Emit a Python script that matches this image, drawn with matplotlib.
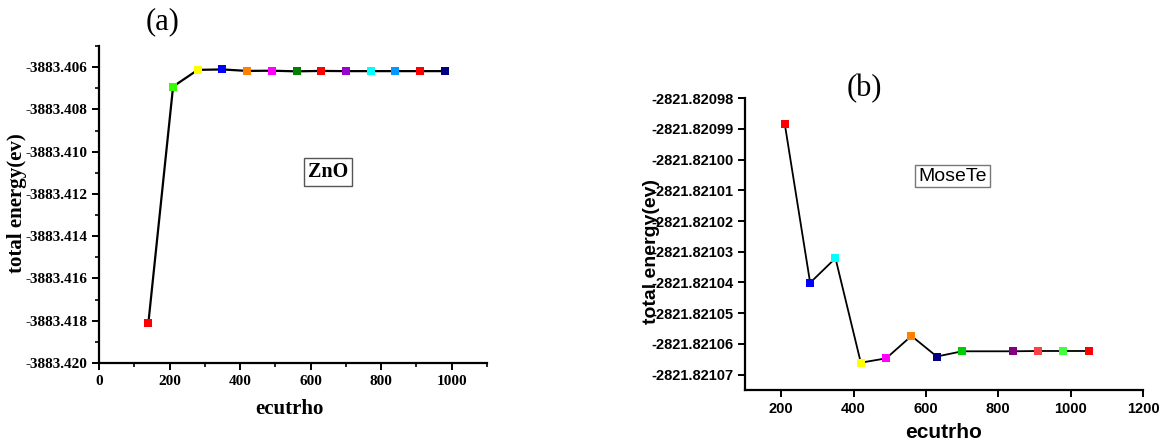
import matplotlib.pyplot as plt
from matplotlib.ticker import MultipleLocator, FormatStrFormatter

# (a) ZnO convergence data
zno_ecutrho = [140, 210, 280, 350, 420, 490, 560, 630, 700, 770, 840, 910, 980]
zno_energy = [-3883.41810, -3883.40692, -3883.40613, -3883.40611, -3883.40618,
              -3883.40617, -3883.40620, -3883.40618, -3883.40619, -3883.40619,
              -3883.40619, -3883.40619, -3883.40619]
zno_colors = ["#ff0000", "#33ff00", "#ffff00", "#0000ff", "#ff8000", "#ff00ff", "#007f00",
              "#ff0000", "#9900cc", "#00ffff", "#0099ff", "#ff0000", "#000080"]

# (b) MoseTe convergence data
mosete_ecutrho = [210, 280, 350, 420, 490, 560, 630, 700, 840, 910, 980, 1050]
mosete_energy = [-2821.8209885, -2821.8210401, -2821.8210321, -2821.8210661,
                 -2821.8210647, -2821.8210574, -2821.8210641, -2821.8210624,
                 -2821.8210624, -2821.8210623, -2821.8210623, -2821.8210623]
mosete_colors = ["#ff0000", "#0000ff", "#00ffff", "#ffff00", "#ff00ff", "#ff8000", "#000080",
                 "#00cc00", "#800080", "#ff4040", "#40ff40", "#ff0000"]


def draw_series(ax, xs, ys, colors, lw):
    ax.plot(xs, ys, color="black", linewidth=lw, zorder=2)
    for x, y, c in zip(xs, ys, colors):
        ax.plot(x, y, marker="s", markersize=5.5, color=c, markeredgewidth=0, zorder=3)


def style_axes(ax, family, size):
    for side in ["top", "right"]:
        ax.spines[side].set_visible(False)
    for side in ["left", "bottom"]:
        ax.spines[side].set_linewidth(1.6)
    ax.tick_params(which="major", direction="out", length=5, width=1.4, labelsize=size)
    ax.tick_params(which="minor", direction="out", length=3, width=1.2)
    for lab in ax.get_xticklabels() + ax.get_yticklabels():
        lab.set_fontfamily(family)
        lab.set_fontweight("bold")


def place_labels(ax, xpos, ypos):
    ax.xaxis.set_label_coords(*xpos)
    ax.yaxis.set_label_coords(*ypos)
    ax.xaxis.label.set_va("center")
    ax.yaxis.label.set_va("center")


fig = plt.figure(figsize=(11.69, 4.43), dpi=100)

# ---- panel (a) ----
serif = "Liberation Serif"
ax1 = fig.add_axes([0.0847, 0.1806, 0.3319, 0.7156])
draw_series(ax1, zno_ecutrho, zno_energy, zno_colors, 1.6)
ax1.set_xlim(0, 1100)
ax1.set_ylim(-3883.420, -3883.405)
ax1.xaxis.set_major_locator(MultipleLocator(200))
ax1.xaxis.set_minor_locator(MultipleLocator(100))
ax1.yaxis.set_major_locator(MultipleLocator(0.002))
ax1.yaxis.set_minor_locator(MultipleLocator(0.001))
ax1.yaxis.set_major_formatter(FormatStrFormatter("%.3f"))
style_axes(ax1, serif, 11)
ax1.set_xlabel("ecutrho", fontfamily=serif, fontweight="bold", fontsize=15)
ax1.set_ylabel("total energy(ev)", fontfamily=serif, fontweight="bold", fontsize=15)
place_labels(ax1, (0.492, -0.145), (-0.211, 0.505))
ax1.text(0.590, 0.6025, "ZnO", transform=ax1.transAxes, ha="center", va="center",
         fontfamily=serif, fontweight="bold", fontsize=14.5,
         bbox=dict(boxstyle="square,pad=0.2", facecolor="white", edgecolor="#555555", linewidth=1))
fig.text(0.139, 0.951, "(a)", ha="center", va="center", fontfamily=serif, fontsize=22)

# ---- panel (b) ----
sans = "Liberation Sans"
ax2 = fig.add_axes([0.6373, 0.1196, 0.3405, 0.659])
draw_series(ax2, mosete_ecutrho, mosete_energy, mosete_colors, 1.3)
ax2.set_xlim(100, 1200)
ax2.set_ylim(-2821.821075, -2821.82098)
ax2.xaxis.set_major_locator(MultipleLocator(200))
ax2.yaxis.set_major_locator(MultipleLocator(0.00001))
ax2.yaxis.set_major_formatter(FormatStrFormatter("%.5f"))
style_axes(ax2, sans, 10.5)
ax2.set_xlabel("ecutrho", fontfamily=sans, fontweight="bold", fontsize=15)
ax2.set_ylabel("total energy(ev)", fontfamily=sans, fontweight="bold", fontsize=14)
place_labels(ax2, (0.499, -0.144), (-0.236, 0.474))
ax2.text(0.521, 0.733, "MoseTe", transform=ax2.transAxes, ha="center", va="center",
         fontfamily=sans, fontsize=14,
         bbox=dict(boxstyle="square,pad=0.15", facecolor="white", edgecolor="#777777", linewidth=1))
fig.text(0.739, 0.799, "(b)", ha="center", va="center", fontfamily=serif, fontsize=22)

plt.savefig("out.png", dpi=100)
